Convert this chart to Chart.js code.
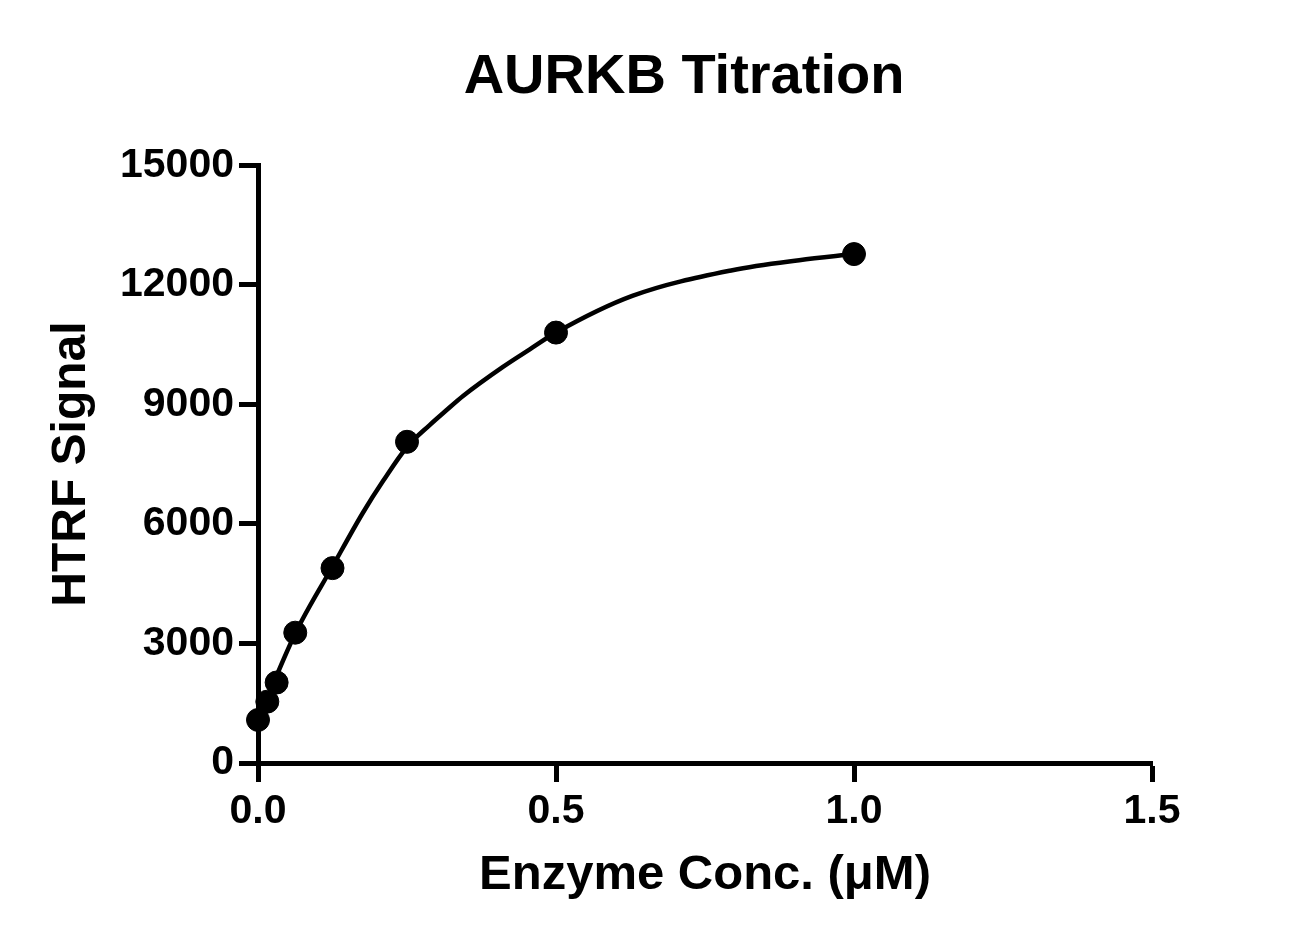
<!DOCTYPE html>
<html>
<head>
<meta charset="utf-8">
<title>AURKB Titration</title>
<script src="https://cdn.jsdelivr.net/npm/chart.js@4.4.1/dist/chart.umd.min.js"></script>
<style>
  html, body { margin: 0; padding: 0; background: #fff; }
  #wrap { width: 1289px; height: 946px; }
</style>
</head>
<body>
<div id="wrap"><canvas id="chart" width="1289" height="946"></canvas></div>
<script>
// measured points (enzyme conc in uM, HTRF signal)
const concValues = [0, 0.015625, 0.03125, 0.0625, 0.125, 0.25, 0.5, 1.0];
const signalValues = [1080, 1540, 2020, 3270, 4890, 8060, 10800, 12770];

// fitted curve
const curveConc = [0, 0.0625, 0.125, 0.176, 0.21, 0.25, 0.288, 0.316, 0.344, 0.411, 0.456, 0.5, 0.628, 0.796, 0.908, 1.0];
const curveSignal = [1080, 3250, 4930, 6280, 7080, 7930, 8480, 8850, 9210, 9940, 10380, 10800, 11720, 12365, 12616, 12770];

const xTicks = [0, 0.5, 1.0, 1.5];
const yTicks = [0, 3000, 6000, 9000, 12000, 15000];

const FONT = '"Liberation Sans", Arial, sans-serif';

const points = concValues.map((x, i) => ({ x: x, y: signalValues[i] }));
const curve = curveConc.map((x, i) => ({ x: x, y: curveSignal[i] }));

new Chart(document.getElementById('chart').getContext('2d'), {
    type: 'scatter',
    data: {
        datasets: [
            {
                label: 'Fit',
                data: curve,
                showLine: true,
                borderColor: '#000',
                borderWidth: 4.5,
                pointRadius: 0,
                cubicInterpolationMode: 'monotone',
                fill: false,
                clip: false
            },
            {
                label: 'AURKB',
                data: points,
                backgroundColor: '#000',
                borderColor: '#000',
                pointRadius: 11.5,
                pointHoverRadius: 11.5,
                clip: false
            }
        ]
    },
    options: {
        responsive: false,
        animation: false,
        // negative right padding so the title centre lands where it is in the original
        layout: { padding: { left: 0, right: -79, top: 0, bottom: 0 } },
        plugins: {
            legend: { display: false },
            tooltip: { enabled: false },
            title: {
                display: true,
                text: 'AURKB Titration',
                color: '#000',
                font: { family: FONT, size: 56, weight: 'bold', lineHeight: 1.2 },
                padding: { top: 44, bottom: 54 }
            }
        },
        scales: {
            x: {
                type: 'linear',
                min: 0,
                max: 1.5,
                afterBuildTicks: axis => { axis.ticks = xTicks.map(v => ({ value: v })); },
                border: { display: true, color: '#000', width: 5 },
                grid: { drawOnChartArea: false, drawTicks: true, tickLength: 19, tickColor: '#000', tickWidth: 5 },
                ticks: {
                    color: '#000',
                    padding: 5,
                    font: { family: FONT, size: 41, weight: 'bold', lineHeight: 1.2 },
                    callback: v => Number(v).toFixed(1)
                },
                title: {
                    display: true,
                    text: 'Enzyme Conc. (μM)',
                    color: '#000',
                    font: { family: FONT, size: 49, weight: 'bold', lineHeight: 1.2 },
                    padding: { top: 4.4, bottom: 41.6 }
                }
            },
            y: {
                type: 'linear',
                min: 0,
                max: 15000,
                afterBuildTicks: axis => { axis.ticks = yTicks.map(v => ({ value: v })); },
                border: { display: true, color: '#000', width: 5 },
                grid: { drawOnChartArea: false, drawTicks: true, tickLength: 19, tickColor: '#000', tickWidth: 5 },
                ticks: {
                    color: '#000',
                    padding: 5,
                    font: { family: FONT, size: 41, weight: 'bold', lineHeight: 1.2 },
                    callback: v => String(v)
                },
                title: {
                    display: true,
                    text: 'HTRF Signal',
                    color: '#000',
                    font: { family: FONT, size: 48, weight: 'bold', lineHeight: 1.2 },
                    padding: { top: 43.2, bottom: 14.2 }
                }
            },
            // empty right-hand spacer that keeps the plot area where it is
            spacer: {
                type: 'linear',
                position: 'right',
                min: 0,
                max: 1,
                border: { display: false },
                grid: { display: false, drawTicks: false },
                ticks: { display: false },
                afterFit: axis => { axis.width = 216; }
            }
        }
    }
});
</script>
</body>
</html>
